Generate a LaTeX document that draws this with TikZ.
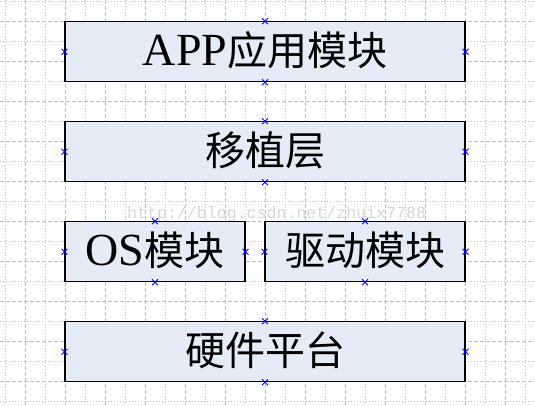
\documentclass[tikz,border=0pt]{standalone}
\usepackage{fontspec}
\setmainfont{Liberation Serif}
\newfontfamily\cjk{Noto Sans CJK SC}
\newfontfamily\wmfont{Liberation Mono}
\usetikzlibrary{shapes.misc}
\definecolor{boxfill}{HTML}{E6ECF7}
\definecolor{gridc}{HTML}{BDBDBD}
\definecolor{wmc}{HTML}{D6D6D6}
\newcommand{\latt}[1]{{\fontsize{46}{46}\selectfont #1}}
\newcommand{\cjkt}[1]{{\cjk\fontsize{40}{40}\selectfont #1}}
\begin{document}
\begin{tikzpicture}[x=1pt,y=-1pt,
  modbox/.style={draw=black,line width=1.1pt,fill=boxfill,inner sep=0pt,
    minimum height=60pt,text height=34pt,text depth=6pt,anchor=center},
  mk/.style={cross out,draw=blue,line width=0.9pt,minimum size=5pt,inner sep=0pt},
  gdash/.style={draw=gridc,line width=0.9pt,dash pattern=on 4pt off 2pt},
  gdot/.style={draw=gridc,line width=0.9pt,dash pattern=on 1pt off 2pt}]
\useasboundingbox (0,0) rectangle (535,405);
\fill[white] (0,0) rectangle (535,405);
% grid
\foreach \x in {5,45,...,525} \draw[gdot] (\x,0) -- (\x,405);
\foreach \x in {25,65,...,505} \draw[gdash] (\x,0) -- (\x,405);
\foreach \y in {1.7,41.7,...,401.7} \draw[gdot] (0,\y) -- (535,\y);
\foreach \y in {21.7,61.7,...,381.7} \draw[gdash] (0,\y) -- (535,\y);
% watermark
\node[anchor=base west,inner sep=0pt,text=wmc,font=\wmfont\fontsize{16.6}{16.6}\selectfont] (wm) at (127,218.5) {http://blog.csdn.net/zhuix7788};
% boxes
\node[modbox,minimum width=400pt] (app) at (265,51.7) {\latt{APP}\cjkt{应用模块}};
\node[modbox,minimum width=400pt] (port) at (265,151.7) {\cjkt{移植层}};
\node[modbox,minimum width=180pt] (os) at (155,251.7) {\latt{OS}\cjkt{模块}};
\node[modbox,minimum width=200pt] (drv) at (365,251.7) {\cjkt{驱动模块}};
\node[modbox,minimum width=400pt] (hw) at (265,351.7) {\cjkt{硬件平台}};
% connection markers
\foreach \n in {app,port,os,drv,hw}
  \foreach \a in {north,south,east,west}
    \node[mk] (\n-\a) at (\n.\a) {};
\end{tikzpicture}
\end{document}
